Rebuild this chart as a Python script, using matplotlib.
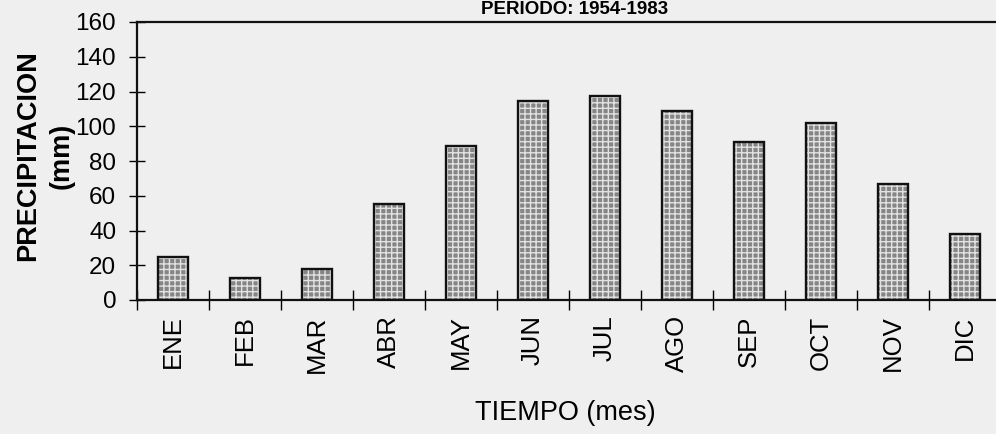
import matplotlib
matplotlib.use("Agg")
import matplotlib.pyplot as plt
import numpy as np

months = ["ENE", "FEB", "MAR", "ABR", "MAY", "JUN", "JUL", "AGO", "SEP", "OCT", "NOV", "DIC"]
precip = [25, 12.5, 18, 55.5, 88.5, 114.5, 117.5, 109, 91, 102, 67, 38]
yticks = [0, 20, 40, 60, 80, 100, 120, 140, 160]

plt.rcParams['font.family'] = ['Liberation Sans', 'DejaVu Sans']

bg = '#efefef'
fig = plt.figure(figsize=(9.96, 4.34), dpi=100, facecolor=bg)
ax = fig.add_axes([137/996, 1-300/434, 864/996, 278/434])
ax.set_facecolor(bg)

x = np.arange(len(months))
w = 0.42
ax.bar(x, precip, width=w, color='#858585', hatch='+++', edgecolor='#e2e2e2', linewidth=0, zorder=2)
ax.bar(x, precip, width=w, fill=False, edgecolor='#111111', linewidth=1.7, zorder=3)

ax.set_xlim(-0.5, 11.5)
ax.set_ylim(0, 160)
ax.set_yticks(yticks)
ax.set_yticklabels([str(v) for v in yticks], fontsize=17.5)
ax.set_xticks(x)
ax.set_xticklabels(months, rotation=90, fontsize=18.5)
ax.tick_params(axis='x', length=0, pad=11)
ax.set_xticks(np.arange(-0.5, 12, 1), minor=True)
ax.tick_params(axis='x', which='minor', direction='inout', length=14, width=1)
ax.tick_params(axis='y', direction='inout', length=12, width=1, pad=9)

for s in ['top', 'left', 'bottom']:
    ax.spines[s].set_linewidth(1.6)
    ax.spines[s].set_color('#111111')
ax.spines['right'].set_visible(False)

fig.text(28/996, 1-156/434, "PRECIPITACION", rotation=90, fontsize=19.5, fontweight='bold',
         ha='center', va='center')
fig.text(62/996, 1-156/434, "(mm)", rotation=90, fontsize=19.5, fontweight='bold',
         ha='center', va='center')
fig.text(565/996, 1-413/434, "TIEMPO (mes)", fontsize=19.5, ha='center', va='center')
fig.text(575/996, 1-9/434, "PERIODO: 1954-1983", fontsize=13.5, fontweight='bold',
         ha='center', va='center')

fig.savefig("out.png", dpi=100, facecolor=bg)
